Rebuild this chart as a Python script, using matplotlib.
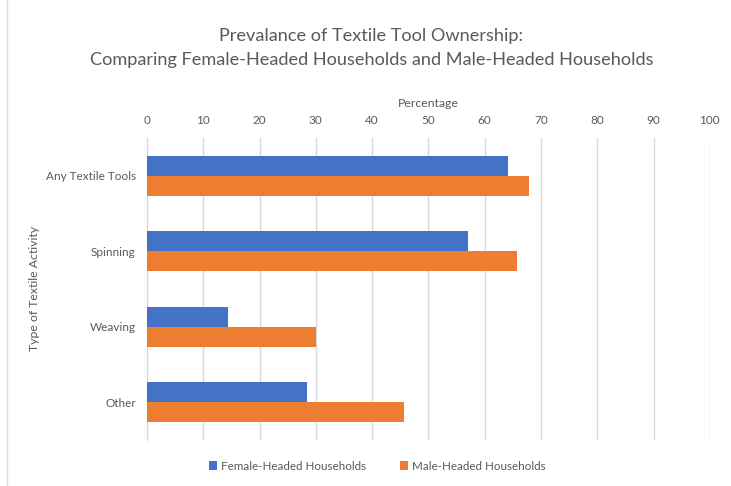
import numpy as np
import matplotlib
matplotlib.use("Agg")
import matplotlib.pyplot as plt
from matplotlib.lines import Line2D

# datos
categorias = ["Any Textile Tools", "Spinning", "Weaving", "Other"]
mujeres = [64.2, 57.1, 14.4, 28.5]
hombres = [67.8, 65.8, 30.0, 45.7]
ticks_x = [0, 10, 20, 30, 40, 50, 60, 70, 80, 90, 100]

plt.rcParams['font.family'] = ['Lato', 'DejaVu Sans']
gris = '#595959'
azul = '#4472C4'
naranja = '#ED7D31'

fig = plt.figure(figsize=(7.31, 4.86), dpi=100)
ax = fig.add_axes([0.201, 0.095, 0.770, 0.621])

y = np.arange(len(categorias))
alto = 0.265
ax.barh(y - alto / 2, mujeres, height=alto, color=azul, label='Female-Headed Households', zorder=3)
ax.barh(y + alto / 2, hombres, height=alto, color=naranja, label='Male-Headed Households', zorder=3)

ax.set_xlim(0, 100)
ax.set_ylim(3.5, -0.5)
ax.set_xticks(ticks_x)
ax.set_yticks(y)
ax.set_yticklabels(categorias)
ax.xaxis.tick_top()
ax.xaxis.set_label_position('top')
ax.tick_params(axis='both', length=0, colors=gris, labelsize=8.5)
ax.tick_params(axis='x', pad=9)
ax.tick_params(axis='y', pad=8)
ax.grid(axis='x', color='#D9D9D9', linewidth=1, zorder=0)
for lado in ['top', 'right', 'bottom']:
    ax.spines[lado].set_visible(False)
ax.spines['left'].set_color('#D9D9D9')

ax.set_xlabel('Percentage', color=gris, fontsize=8.8, labelpad=5.5)
ax.set_ylabel('Type of Textile Activity', color=gris, fontsize=8.8, labelpad=4)

fig.text(0.508, 0.925, 'Prevalance of Textile Tool Ownership:', ha='center', va='center',
         color=gris, fontsize=13.1)
fig.text(0.508, 0.877, 'Comparing Female-Headed Households and Male-Headed Households',
         ha='center', va='center', color=gris, fontsize=13.1)

leg = fig.legend(loc='center', bbox_to_anchor=(0.516, 0.041), ncol=2, frameon=False,
                 fontsize=8.4, handlelength=0.7, handleheight=0.7, handletextpad=0.3,
                 columnspacing=2.9)
for t in leg.get_texts():
    t.set_color(gris)

# borde izquierdo del cuadro
fig.add_artist(Line2D([0.0096, 0.0096], [0.0, 1.0], color='#D9D9D9', linewidth=1))

fig.savefig('out.png', dpi=100)
